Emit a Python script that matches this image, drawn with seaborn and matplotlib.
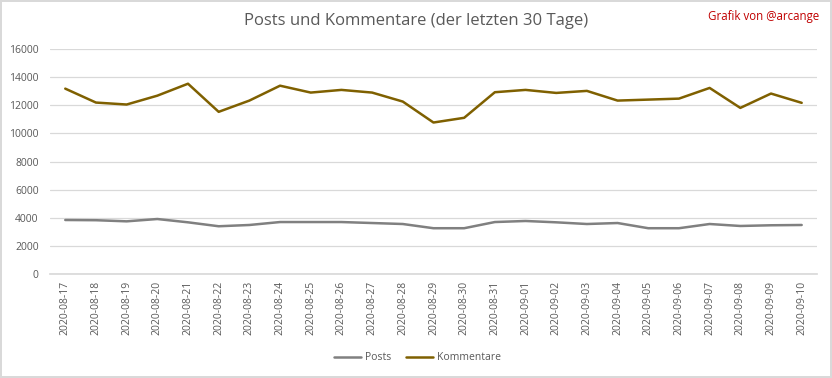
import matplotlib.pyplot as plt
import pandas as pd
import seaborn as sns

dates = ['2020-08-17', '2020-08-18', '2020-08-19', '2020-08-20', '2020-08-21',
         '2020-08-22', '2020-08-23', '2020-08-24', '2020-08-25', '2020-08-26',
         '2020-08-27', '2020-08-28', '2020-08-29', '2020-08-30', '2020-08-31',
         '2020-09-01', '2020-09-02', '2020-09-03', '2020-09-04', '2020-09-05',
         '2020-09-06', '2020-09-07', '2020-09-08', '2020-09-09', '2020-09-10']
posts = [3845, 3830, 3750, 3915, 3680, 3400, 3490, 3700, 3700, 3700,
         3630, 3560, 3260, 3260, 3700, 3775, 3680, 3560, 3630, 3260,
         3260, 3560, 3420, 3470, 3490]
kommentare = [13190, 12200, 12060, 12690, 13540, 11540, 12340, 13400, 12910, 13100,
              12910, 12270, 10780, 11115, 12935, 13100, 12885, 13030, 12340, 12410,
              12480, 13240, 11820, 12840, 12180]
yticks = [0, 2000, 4000, 6000, 8000, 10000, 12000, 14000, 16000]

df = pd.DataFrame({'Datum': dates * 2,
                   'Wert': posts + kommentare,
                   'Serie': ['Posts'] * len(dates) + ['Kommentare'] * len(dates)})

sns.set_theme(style='white')
plt.rcParams['font.family'] = ['Open Sans', 'DejaVu Sans']

fig = plt.figure(figsize=(8.32, 3.78), dpi=100)
fig.patch.set_edgecolor('#d9d9d9')
fig.patch.set_linewidth(1.5)
ax = fig.add_axes([0.060, 0.275, 0.922, 0.595])

sns.lineplot(data=df, x='Datum', y='Wert', hue='Serie', ax=ax,
             palette={'Posts': '#808080', 'Kommentare': '#7f6000'},
             linewidth=1.8, sort=False)

ax.set_xlim(-0.5, len(dates) - 0.5)
ax.set_ylim(0, 16000)
ax.set_yticks(yticks)
ax.set_yticklabels([str(v) for v in yticks])
ax.grid(axis='y', color='#d9d9d9', linewidth=0.9)
ax.set_axisbelow(True)
for s in ['top', 'right', 'left']:
    ax.spines[s].set_visible(False)
ax.spines['bottom'].set_color('#d9d9d9')
ax.tick_params(axis='x', rotation=90, labelsize=7.5, colors='#595959', length=0, pad=5)
ax.tick_params(axis='y', labelsize=7.5, colors='#595959', length=0, pad=8)
ax.set_xlabel('')
ax.set_ylabel('')

fig.text(0.5, 0.945, 'Posts und Kommentare (der letzten 30 Tage)', ha='center', va='center',
         fontsize=12, color='#595959')
fig.text(0.985, 0.957, 'Grafik von @arcange', ha='right', va='center',
         fontsize=8.3, color='#c00000')

ax.legend(loc='center', bbox_to_anchor=(0.479, -0.373), ncol=2, frameon=False,
          fontsize=7.5, labelcolor='#595959', handlelength=2.6, handletextpad=0.35,
          columnspacing=1.4)

fig.savefig('out.png', dpi=100)
